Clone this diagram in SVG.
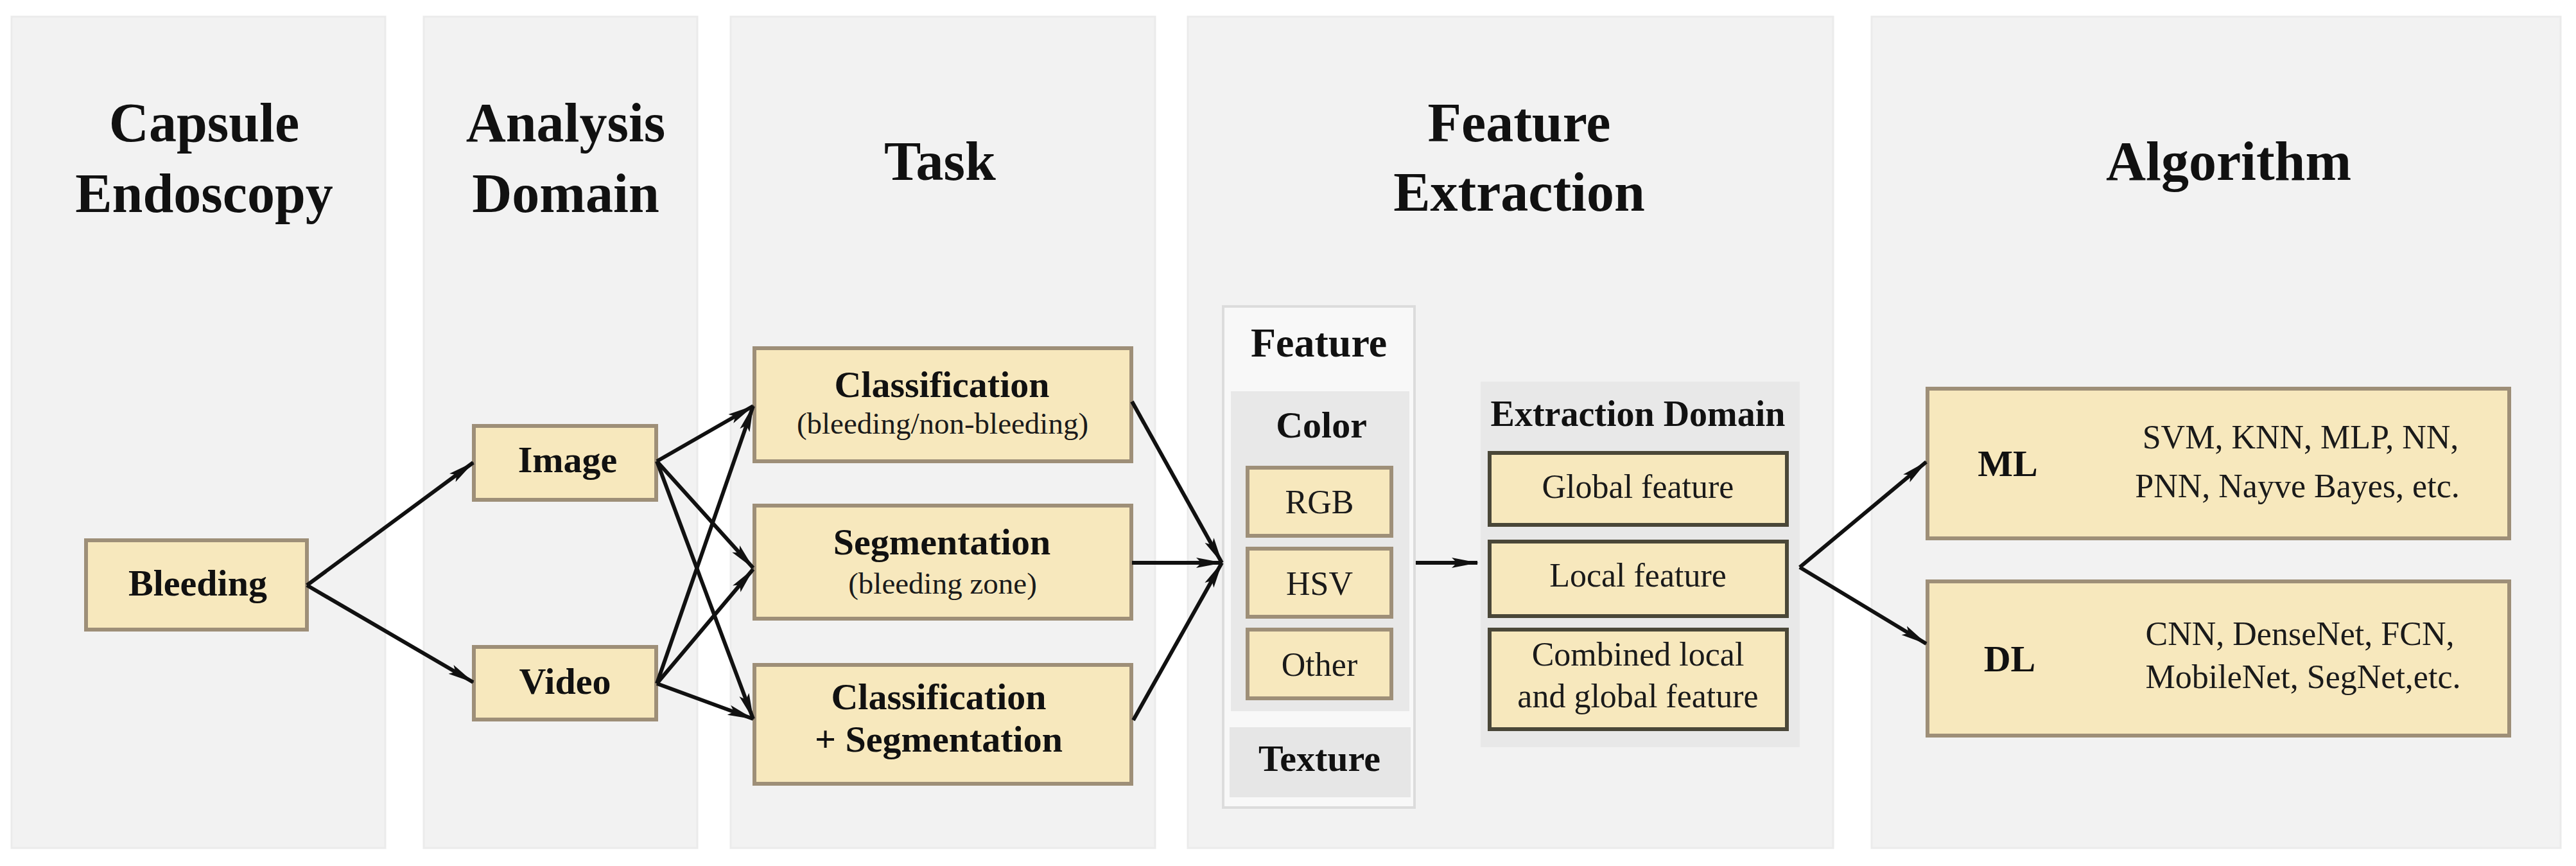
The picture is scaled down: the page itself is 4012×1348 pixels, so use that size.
<svg xmlns="http://www.w3.org/2000/svg" width="4012" height="1348" viewBox="0 0 4012 1348">
  <defs>
    <marker id="ah" markerUnits="userSpaceOnUse" markerWidth="44" markerHeight="22" viewBox="0 0 44 22" refX="40" refY="11" orient="auto">
      <path d="M0,3 L42,11 L0,19 L8,11 z" fill="#111"/>
    </marker>
    <style>
      .panel { fill: #f2f2f2; stroke: #ebebeb; stroke-width: 3; }
      .box { fill: #f7e8bd; stroke: #9e8f78; stroke-width: 6; }
      .dbox { fill: #f7e8bd; stroke: #4a4738; stroke-width: 6; }
      .title { font-family: "Liberation Serif", "Times New Roman", serif; font-weight: bold; font-size: 86px; fill: #111; text-anchor: middle; }
      .lb { font-family: "Liberation Serif", "Times New Roman", serif; font-weight: bold; font-size: 58px; fill: #111; text-anchor: middle; }
      .lr { font-family: "Liberation Serif", "Times New Roman", serif; font-size: 52px; fill: #1a1a1a; text-anchor: middle; }
      .ls { font-family: "Liberation Serif", "Times New Roman", serif; font-size: 47px; fill: #1a1a1a; text-anchor: middle; }
      .conn { stroke: #111; stroke-width: 6; fill: none; marker-end: url(#ah); }
    </style>
  </defs>
  <rect width="4012" height="1348" fill="#ffffff"/>

  <g id="col-capsule">
    <rect class="panel" x="18" y="26" width="582" height="1294"/>
    <text class="title" x="318" y="220">Capsule</text>
    <text class="title" x="318" y="330">Endoscopy</text>
  </g>
  <g id="col-analysis">
    <rect class="panel" x="660" y="26" width="426" height="1294"/>
    <text class="title" x="881" y="220">Analysis</text>
    <text class="title" x="881" y="330">Domain</text>
  </g>
  <g id="col-task">
    <rect class="panel" x="1138" y="26" width="661" height="1294"/>
    <text class="title" x="1464" y="280">Task</text>
  </g>
  <g id="col-feature">
    <rect class="panel" x="1850" y="26" width="1005" height="1294"/>
    <text class="title" x="2366" y="220">Feature</text>
    <text class="title" x="2366" y="328">Extraction</text>
  </g>
  <g id="col-algorithm">
    <rect class="panel" x="2915" y="26" width="1073" height="1294"/>
    <text class="title" x="3471" y="280">Algorithm</text>
  </g>

  <g id="bleeding">
    <rect class="box" x="134" y="841" width="344" height="139"/>
    <text class="lb" x="308" y="927">Bleeding</text>
  </g>
  <g id="image">
    <rect class="box" x="738" y="663" width="284" height="115"/>
    <text class="lb" x="884" y="735">Image</text>
  </g>
  <g id="video">
    <rect class="box" x="738" y="1007" width="284" height="113"/>
    <text class="lb" x="880" y="1080">Video</text>
  </g>

  <g id="classification">
    <rect class="box" x="1175" y="542" width="587" height="176"/>
    <text class="lb" x="1467" y="618">Classification</text>
    <text class="ls" x="1468" y="675">(bleeding/non-bleeding)</text>
  </g>
  <g id="segmentation">
    <rect class="box" x="1175" y="787" width="587" height="176"/>
    <text class="lb" x="1467" y="863">Segmentation</text>
    <text class="ls" x="1468" y="924">(bleeding zone)</text>
  </g>
  <g id="cls-seg">
    <rect class="box" x="1175" y="1035" width="587" height="185"/>
    <text class="lb" x="1462" y="1104">Classification</text>
    <text class="lb" x="1462" y="1170">+ Segmentation</text>
  </g>

  <g id="feature">
    <rect x="1905" y="477" width="298" height="780" fill="#f8f8f8" stroke="#dcdcdc" stroke-width="4"/>
    <text class="lb" x="2054" y="555" style="font-size:64px">Feature</text>
    <g id="color">
      <rect x="1917" y="609" width="278" height="498" fill="#e8e8e8"/>
      <text class="lb" x="2058" y="681">Color</text>
      <g id="rgb">
        <rect class="box" x="1943" y="728" width="224" height="106"/>
        <text class="lr" x="2055" y="799">RGB</text>
      </g>
      <g id="hsv">
        <rect class="box" x="1943" y="854" width="224" height="106"/>
        <text class="lr" x="2055" y="926">HSV</text>
      </g>
      <g id="other">
        <rect class="box" x="1943" y="980" width="224" height="107"/>
        <text class="lr" x="2055" y="1052">Other</text>
      </g>
    </g>
    <g id="texture">
      <rect x="1915" y="1132" width="282" height="109" fill="#e6e6e6"/>
      <text class="lb" x="2055" y="1200">Texture</text>
    </g>
  </g>

  <g id="extraction-domain">
    <rect x="2306" y="594" width="497" height="569" fill="#e8e8e8"/>
    <text class="lb" x="2551" y="663" style="font-size:56px">Extraction Domain</text>
    <g id="global">
      <rect class="dbox" x="2320" y="705" width="463" height="112"/>
      <text class="lr" x="2551" y="775">Global feature</text>
    </g>
    <g id="local">
      <rect class="dbox" x="2320" y="843" width="463" height="116"/>
      <text class="lr" x="2551" y="913">Local feature</text>
    </g>
    <g id="combined">
      <rect class="dbox" x="2320" y="980" width="463" height="155"/>
      <text class="lr" x="2551" y="1036">Combined local</text>
      <text class="lr" x="2551" y="1101">and global feature</text>
    </g>
  </g>

  <g id="ml">
    <rect class="box" x="3002" y="605" width="906" height="233"/>
    <text class="lb" x="3127" y="741">ML</text>
    <text class="lr" x="3583" y="698">SVM, KNN, MLP, NN,</text>
    <text class="lr" x="3578" y="774">PNN, Nayve Bayes, etc.</text>
  </g>
  <g id="dl">
    <rect class="box" x="3002" y="905" width="906" height="240"/>
    <text class="lb" x="3130" y="1045">DL</text>
    <text class="lr" x="3582" y="1004">CNN, DenseNet, FCN,</text>
    <text class="lr" x="3587" y="1071">MobileNet, SegNet,etc.</text>
  </g>

  <g id="connectors">
    <line class="conn" x1="478" y1="911" x2="737" y2="720"/>
    <line class="conn" x1="478" y1="911" x2="737" y2="1062"/>
    <line class="conn" x1="1023" y1="718" x2="1173" y2="632"/>
    <line class="conn" x1="1023" y1="718" x2="1173" y2="884"/>
    <line class="conn" x1="1023" y1="718" x2="1173" y2="1119"/>
    <line class="conn" x1="1023" y1="1064" x2="1173" y2="632"/>
    <line class="conn" x1="1023" y1="1064" x2="1173" y2="886"/>
    <line class="conn" x1="1023" y1="1064" x2="1173" y2="1119"/>
    <line class="conn" x1="1763" y1="625" x2="1903" y2="876"/>
    <line class="conn" x1="1763" y1="876" x2="1903" y2="876"/>
    <line class="conn" x1="1765" y1="1121" x2="1903" y2="876"/>
    <line class="conn" x1="2205" y1="876" x2="2301" y2="876"/>
    <line class="conn" x1="2803" y1="883" x2="3000" y2="719"/>
    <line class="conn" x1="2803" y1="883" x2="3000" y2="1002"/>
  </g>
</svg>
